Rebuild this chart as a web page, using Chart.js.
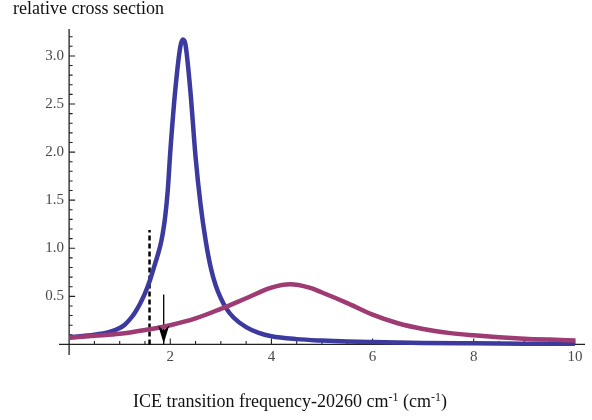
<!DOCTYPE html>
<html>
<head>
<meta charset="utf-8">
<script src="https://cdn.jsdelivr.net/npm/chart.js@4/dist/chart.umd.min.js"></script>
<style>
  body { margin: 0; background: #fff; }
  #wrap { position: relative; width: 592px; height: 420px; }
  canvas { position: absolute; left: 0; top: 0; }
  .lbl { position: absolute; font-family: "Liberation Serif", serif; color: #111; white-space: nowrap; }
  #ytitle { left: 13px; top: -1px; font-size: 18px; line-height: 18px; }
  #xtitle { left: 133px; top: 392px; font-size: 18px; line-height: 18px; }
  #xtitle sup { font-size: 12px; vertical-align: 6px; line-height: 0; }
</style>
</head>
<body>
<div id="wrap">
  <canvas id="chart" width="592" height="420"></canvas>
  <div class="lbl" id="ytitle">relative cross section</div>
  <div class="lbl" id="xtitle">ICE transition frequency-20260 cm<sup>-1</sup> (cm<sup>-1</sup>)</div>
</div>
<script>
// narrow line (blue)
const blueX = [0, 0.5, 0.8, 1.0, 1.1, 1.2, 1.3, 1.4, 1.5, 1.6, 1.7, 1.8, 1.85, 1.9, 1.95, 2.0, 2.1, 2.2, 2.25, 2.3, 2.4, 2.5, 2.6, 2.7, 2.8, 2.9, 3.0, 3.1, 3.25, 3.5, 3.75, 4.0, 4.5, 5.0, 5.5, 6.0, 7.0, 8.0, 9.0, 10.0];
const blueY = [0.075, 0.10, 0.13, 0.17, 0.205, 0.26, 0.33, 0.42, 0.53, 0.67, 0.84, 1.02, 1.15, 1.33, 1.60, 2.0, 2.65, 3.10, 3.17, 3.12, 2.62, 1.95, 1.45, 1.08, 0.80, 0.61, 0.48, 0.38, 0.28, 0.18, 0.12, 0.085, 0.055, 0.04, 0.03, 0.024, 0.015, 0.011, 0.008, 0.006];

// broad line (purple)
const purpleX = [0, 0.5, 1.0, 1.5, 2.0, 2.5, 3.0, 3.5, 4.0, 4.37, 4.75, 5.0, 5.5, 6.0, 6.5, 7.0, 7.5, 8.0, 8.5, 9.0, 9.5, 10.0];
const purpleY = [0.07, 0.09, 0.11, 0.15, 0.20, 0.27, 0.37, 0.48, 0.59, 0.625, 0.59, 0.54, 0.43, 0.31, 0.22, 0.16, 0.12, 0.095, 0.075, 0.06, 0.05, 0.042];

// markers
const dashedX = [1.59, 1.59];
const dashedY = [0, 1.19];
const arrowX = [1.87, 1.87];
const arrowY = [0.52, 0];

// axis ticks
const xTickLabels = [2, 4, 6, 8, 10];
const yTickLabels = [0.5, 1.0, 1.5, 2.0, 2.5, 3.0];

const pts = (xs, ys) => xs.map((x, i) => ({x: x, y: ys[i]}));

// Mathematica-style axes crossing at the origin, ticks pointing inward
const axesPlugin = {
  id: 'axesPlugin',
  beforeDatasetsDraw(chart) {
    const {ctx, chartArea: a, scales: {x, y}} = chart;
    const x0 = x.getPixelForValue(0);
    const y0 = y.getPixelForValue(0);
    ctx.save();
    ctx.strokeStyle = '#222';
    ctx.lineWidth = 1.3;
    ctx.beginPath();
    ctx.moveTo(a.left, y0); ctx.lineTo(a.right, y0);
    ctx.moveTo(x0, a.top); ctx.lineTo(x0, a.bottom);
    ctx.stroke();

    ctx.lineWidth = 1.1;
    ctx.beginPath();
    for (let v = 0.5; v <= 10.01; v += 0.5) {
      const px = x.getPixelForValue(v);
      const major = xTickLabels.includes(Math.round(v * 10) / 10);
      ctx.moveTo(px, y0); ctx.lineTo(px, y0 - (major ? 6 : 3.5));
    }
    for (let v = 0.1; v <= 3.25; v += 0.1) {
      const r = Math.round(v * 10) / 10;
      const py = y.getPixelForValue(r);
      const major = yTickLabels.includes(r);
      ctx.moveTo(x0, py); ctx.lineTo(x0 + (major ? 6 : 3.5), py);
    }
    ctx.stroke();

    ctx.fillStyle = '#4a4a4a';
    ctx.font = '15px "Liberation Serif", serif';
    ctx.textAlign = 'center';
    ctx.textBaseline = 'middle';
    xTickLabels.forEach(v => ctx.fillText(String(v), x.getPixelForValue(v), y0 + 13));
    ctx.textAlign = 'right';
    yTickLabels.forEach(v => ctx.fillText(v.toFixed(1), x0 - 5, y.getPixelForValue(v)));
    ctx.restore();
  },
  afterDatasetsDraw(chart) {
    // arrow head at the end of the arrow shaft
    const meta = chart.getDatasetMeta(3);
    const tip = meta.data[meta.data.length - 1];
    const {ctx} = chart;
    ctx.save();
    ctx.fillStyle = '#000';
    ctx.beginPath();
    ctx.moveTo(tip.x, tip.y - 1);
    ctx.lineTo(tip.x - 5.5, tip.y - 19);
    ctx.lineTo(tip.x, tip.y - 14);
    ctx.lineTo(tip.x + 5.5, tip.y - 19);
    ctx.closePath();
    ctx.fill();
    ctx.restore();
  }
};

new Chart(document.getElementById('chart'), {
  type: 'line',
  data: {
    datasets: [
      {
        data: pts(purpleX, purpleY),
        borderColor: '#9e3b72',
        borderWidth: 4.5,
        cubicInterpolationMode: 'monotone'
      },
      {
        data: pts(blueX, blueY),
        borderColor: '#3c3a9e',
        borderWidth: 4.5,
        cubicInterpolationMode: 'monotone'
      },
      {
        data: pts(dashedX, dashedY),
        borderColor: '#000',
        borderWidth: 2.5,
        borderDash: [5, 3]
      },
      {
        data: pts(arrowX, arrowY),
        borderColor: '#000',
        borderWidth: 1.3
      }
    ]
  },
  options: {
    responsive: false,
    animation: false,
    devicePixelRatio: 1,
    layout: { padding: { left: 59, right: 7, top: 29, bottom: 65 } },
    elements: { point: { radius: 0 } },
    plugins: { legend: { display: false }, tooltip: { enabled: false } },
    scales: {
      x: { type: 'linear', min: -0.2, max: 10.2, display: false },
      y: { type: 'linear', min: -0.11, max: 3.28, display: false }
    }
  },
  plugins: [axesPlugin]
});
</script>
</body>
</html>
